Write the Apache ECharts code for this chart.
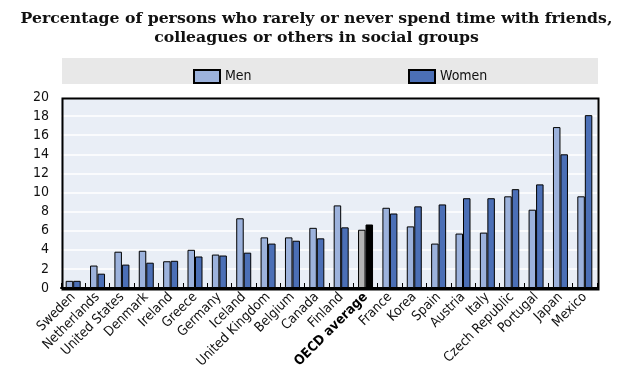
<!DOCTYPE html>
<html><head><meta charset="utf-8">
<script src="https://cdn.jsdelivr.net/npm/echarts@6/dist/echarts.min.js"></script>
<style>html,body{margin:0;padding:0;background:#fff}#c{width:633px;height:382px}</style>
</head><body><div id="c"></div>
<script>
const categories = ["Sweden","Netherlands","United States","Denmark","Ireland","Greece","Germany","Iceland","United Kingdom","Belgium","Canada","Finland","OECD average","France","Korea","Spain","Austria","Italy","Czech Republic","Portugal","Japan","Mexico"];
const men =   [0.75,2.35,3.8,3.9,2.8,4.0,3.5,7.3,5.3,5.3,6.3,8.65,6.1,8.4,6.45,4.65,5.7,5.8,9.6,8.2,16.85,9.6];
const women = [0.75,1.5,2.45,2.65,2.85,3.3,3.4,3.7,4.65,4.95,5.2,6.35,6.65,7.8,8.55,8.75,9.4,9.4,10.35,10.85,14.0,18.1];
const yTicks = {min:0,max:20,interval:2};
const HIGHLIGHT = "OECD average";

const menColor = "#9cb2dc", womenColor = "#4b6fb6";
const mk = (arr, hl) => arr.map((v,i) => categories[i]===HIGHLIGHT ? {value:v,itemStyle:{color:hl}} : v);
const fontNarrow = "'Liberation Sans Narrow','DejaVu Sans Condensed','Arial Narrow',sans-serif";
const G = {left:61, top:97, right:36, bottom:94};
const W = 633, H = 382;

const chart = echarts.init(document.getElementById('c'));
chart.setOption({
  animation:false,
  title:{
    text:"Percentage of persons who rarely or never spend time with friends,\ncolleagues or others in social groups",
    left:'center', top:4,
    textStyle:{fontFamily:"'DejaVu Serif',serif",fontWeight:'bold',fontSize:15.7,lineHeight:19,color:'#111'}
  },
  graphic:[
    {type:'rect',left:62,top:58,shape:{width:536,height:26},style:{fill:'#e8e8e8'},z:-1},
    {type:'rect',left:G.left-1,top:G.top-1,z:100,
     shape:{width:W-G.left-G.right,height:H-G.top-G.bottom},
     style:{fill:null,stroke:'#000',lineWidth:2}}
  ],
  legend:[
    {data:['Men'],left:188,top:64,itemWidth:26,itemHeight:13,icon:'rect',textStyle:{fontFamily:fontNarrow,fontSize:14,color:'#111'}},
    {data:['Women'],left:403,top:64,itemWidth:26,itemHeight:13,icon:'rect',textStyle:{fontFamily:fontNarrow,fontSize:14,color:'#111'}}
  ],
  grid:{left:G.left,right:G.right,top:G.top,bottom:G.bottom,show:true,backgroundColor:'#e9eef6',borderWidth:0},
  xAxis:{
    type:'category', data:categories,
    axisLine:{show:true,lineStyle:{color:'#000',width:2}},
    axisTick:{show:true,inside:true,length:5,lineStyle:{color:'#000',width:1}},
    axisLabel:{rotate:45,margin:7,interval:0,fontFamily:fontNarrow,fontSize:13.5,color:'#111',
      formatter:v=>v===HIGHLIGHT?'{b|'+v+'}':v,
      rich:{b:{fontWeight:'bold',fontFamily:fontNarrow,fontSize:13.5,color:'#000'}}}
  },
  yAxis:{
    type:'value', min:yTicks.min, max:yTicks.max, interval:yTicks.interval,
    axisLine:{show:false}, axisTick:{show:false},
    splitLine:{show:true,lineStyle:{color:'#fff',width:1.5}},
    axisLabel:{margin:12,fontFamily:fontNarrow,fontSize:14,color:'#111'}
  },
  series:[
    {name:'Men',type:'bar',data:mk(men,'#b4b4b4'),barGap:'0%',barWidth:7.5,
     itemStyle:{color:menColor,borderColor:'#000',borderWidth:1}},
    {name:'Women',type:'bar',data:mk(women,'#000'),barWidth:7.5,
     itemStyle:{color:womenColor,borderColor:'#000',borderWidth:1}}
  ]
});
</script></body></html>
